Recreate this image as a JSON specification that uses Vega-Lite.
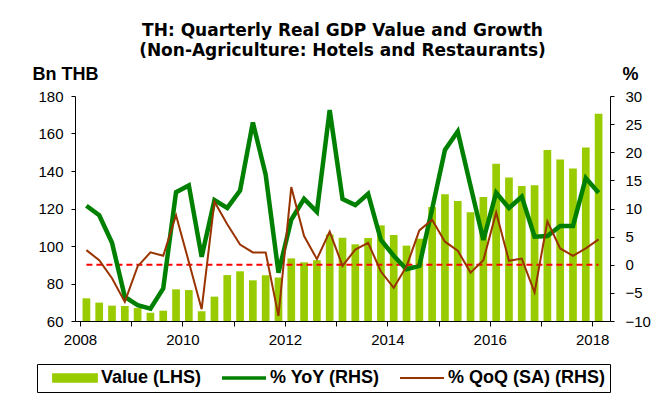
{
  "$schema": "https://vega.github.io/schema/vega-lite/v6.json",
  "width": 535,
  "height": 225,
  "autosize": {"type": "none"},
  "padding": {"left": 75, "top": 96, "right": 59, "bottom": 81},
  "background": "white",
  "title": {
    "text": ["TH: Quarterly Real GDP Value and Growth", "(Non-Agriculture: Hotels and Restaurants)"],
    "font": "DejaVu Sans",
    "fontSize": 17,
    "fontWeight": "bold",
    "color": "#000",
    "anchor": "middle",
    "frame": "group",
    "lineHeight": 20,
    "offset": 5
  },
  "config": {
    "view": {"stroke": null},
    "axis": {
      "labelFont": "Liberation Sans",
      "labelFontSize": 15,
      "labelColor": "#000",
      "domainColor": "#000",
      "tickColor": "#000",
      "domainWidth": 1,
      "tickWidth": 1,
      "grid": false,
      "titleFont": "Liberation Sans",
      "titleFontSize": 18,
      "titleFontWeight": "bold",
      "titleColor": "#000"
    }
  },
  "data": {
    "values": [
      {"t": 2008.125, "value": 72.1, "yoy": 10.5, "qoq": 2.6},
      {"t": 2008.375, "value": 69.8, "yoy": 8.8, "qoq": 0.8},
      {"t": 2008.625, "value": 68.2, "yoy": 3.9, "qoq": -2.4},
      {"t": 2008.875, "value": 68.0, "yoy": -5.7, "qoq": -6.6},
      {"t": 2009.125, "value": 66.9, "yoy": -7.2, "qoq": -0.3},
      {"t": 2009.375, "value": 64.4, "yoy": -7.8, "qoq": 2.2},
      {"t": 2009.625, "value": 65.5, "yoy": -4.2, "qoq": 1.6},
      {"t": 2009.875, "value": 76.9, "yoy": 12.9, "qoq": 8.8},
      {"t": 2010.125, "value": 76.5, "yoy": 14.1, "qoq": 0.5},
      {"t": 2010.375, "value": 65.2, "yoy": 1.4, "qoq": -7.9},
      {"t": 2010.625, "value": 73.0, "yoy": 11.5, "qoq": 11.2},
      {"t": 2010.875, "value": 84.5, "yoy": 10.1, "qoq": 7.2},
      {"t": 2011.125, "value": 86.5, "yoy": 13.2, "qoq": 3.6},
      {"t": 2011.375, "value": 81.7, "yoy": 25.3, "qoq": 2.2},
      {"t": 2011.625, "value": 84.4, "yoy": 16.0, "qoq": 2.2},
      {"t": 2011.875, "value": 83.2, "yoy": -1.4, "qoq": -9.1},
      {"t": 2012.125, "value": 93.4, "yoy": 8.0, "qoq": 13.8},
      {"t": 2012.375, "value": 91.3, "yoy": 11.7, "qoq": 5.1},
      {"t": 2012.625, "value": 92.4, "yoy": 9.4, "qoq": 1.0},
      {"t": 2012.875, "value": 106.2, "yoy": 27.5, "qoq": 5.9},
      {"t": 2013.125, "value": 104.4, "yoy": 11.7, "qoq": -0.2},
      {"t": 2013.375, "value": 100.9, "yoy": 10.6, "qoq": 2.7},
      {"t": 2013.625, "value": 104.3, "yoy": 12.6, "qoq": 3.9},
      {"t": 2013.875, "value": 111.0, "yoy": 4.4, "qoq": -1.2},
      {"t": 2014.125, "value": 105.9, "yoy": 1.6, "qoq": -4.1},
      {"t": 2014.375, "value": 100.2, "yoy": -0.8, "qoq": -0.3},
      {"t": 2014.625, "value": 103.9, "yoy": -0.2, "qoq": 6.1},
      {"t": 2014.875, "value": 120.8, "yoy": 9.9, "qoq": 8.0},
      {"t": 2015.125, "value": 127.6, "yoy": 20.4, "qoq": 4.1},
      {"t": 2015.375, "value": 124.0, "yoy": 23.7, "qoq": 2.5},
      {"t": 2015.625, "value": 118.0, "yoy": 14.0, "qoq": -1.4},
      {"t": 2015.875, "value": 126.1, "yoy": 4.4, "qoq": 0.8},
      {"t": 2016.125, "value": 143.9, "yoy": 12.8, "qoq": 9.3},
      {"t": 2016.375, "value": 136.6, "yoy": 10.1, "qoq": 0.7},
      {"t": 2016.625, "value": 132.0, "yoy": 12.1, "qoq": 1.1},
      {"t": 2016.875, "value": 132.4, "yoy": 5.0, "qoq": -4.9},
      {"t": 2017.125, "value": 151.2, "yoy": 5.1, "qoq": 7.7},
      {"t": 2017.375, "value": 146.2, "yoy": 6.9, "qoq": 2.9},
      {"t": 2017.625, "value": 141.4, "yoy": 6.9, "qoq": 1.6},
      {"t": 2017.875, "value": 152.6, "yoy": 15.4, "qoq": 2.9},
      {"t": 2018.125, "value": 170.6, "yoy": 12.8, "qoq": 4.5}
    ]
  },
  "layer": [
    {
      "mark": {"type": "bar", "width": 7.7},
      "encoding": {
        "x": {"field": "t", "type": "quantitative", "scale": {"domain": [2008, 2018.25], "nice": false, "zero": false},
              "axis": {"values": [2008, 2009, 2010, 2011, 2012, 2013, 2014, 2015, 2016, 2017, 2018], "format": "d", "labelExpr": "datum.value % 2 === 0 ? datum.label : ''", "title": null, "tickSize": 5, "labelPadding": 6, "labelFlush": false, "labelOverlap": false}},
        "y": {"field": "value", "type": "quantitative", "scale": {"domain": [60, 180], "nice": false, "zero": false},
              "axis": {"orient": "left", "values": [60, 80, 100, 120, 140, 160, 180], "tickSize": 4, "labelPadding": 8, "title": "Bn THB", "titleAngle": 0, "titleAlign": "left", "titleBaseline": "alphabetic", "titleX": -43, "titleY": -17}},
        "y2": {"datum": 60},
        "color": {
          "datum": "Value (LHS)",
          "scale": {"domain": ["Value (LHS)", "% YoY (RHS)", "% QoQ (SA) (RHS)"], "range": ["#99cc00", "#008000", "#993300"]},
          "legend": {
            "orient": "none",
            "legendX": -38,
            "legendY": 268,
            "direction": "horizontal",
            "title": null,
            "padding": 5,
            "strokeColor": "#000",
            "fillColor": "#fff",
            "symbolSize": 484,
            "symbolOffset": 13,
            "labelOffset": 28,
            "columnPadding": 9,
            "labelFont": "Liberation Sans",
            "labelFontSize": 18,
            "labelFontWeight": "bold",
            "labelColor": "#000",
            "labelLimit": 300,
            "symbolType": "M-1,0L3,0",
            "encode": {
              "symbols": {
                "update": {
                  "shape": {"signal": "datum.value === 'Value (LHS)' ? 'M-1,-0.35L3,-0.35L3,0.35L-1,0.35Z' : 'M-1,0L3,0'"},
                  "fill": {"signal": "datum.value === 'Value (LHS)' ? '#99cc00' : 'transparent'"},
                  "stroke": {"signal": "datum.value === 'Value (LHS)' ? 'transparent' : (datum.value === '% YoY (RHS)' ? '#008000' : '#993300')"},
                  "strokeWidth": {"signal": "datum.value === '% YoY (RHS)' ? 3.5 : 1.8"},
                  "opacity": {"value": 1},
                  "fillOpacity": {"value": 1},
                  "strokeOpacity": {"value": 1}
                }
              }
            }
          }
        }
      }
    },
    {
      "layer": [
        {
          "mark": {"type": "line", "color": "#ff0000", "strokeDash": [6, 4], "strokeWidth": 2},
          "encoding": {
            "x": {"field": "t", "type": "quantitative"},
            "y": {"datum": 0, "type": "quantitative", "scale": {"domain": [-10, 30], "nice": false, "zero": false},
                  "axis": {"orient": "right", "values": [-10, -5, 0, 5, 10, 15, 20, 25, 30], "tickSize": 4, "labelPadding": 11, "title": "%", "titleAngle": 0, "titleAlign": "left", "titleBaseline": "alphabetic", "titleX": 12, "titleY": -17}}
          }
        },
        {
          "mark": {"type": "line", "strokeWidth": 4.5},
          "encoding": {
            "x": {"field": "t", "type": "quantitative"},
            "y": {"field": "yoy", "type": "quantitative",
                  "axis": {"orient": "right", "values": [-10, -5, 0, 5, 10, 15, 20, 25, 30], "tickSize": 4, "labelPadding": 11, "title": "%", "titleAngle": 0, "titleAlign": "left", "titleBaseline": "alphabetic", "titleX": 12, "titleY": -17}},
            "color": {"datum": "% YoY (RHS)"}
          }
        },
        {
          "mark": {"type": "line", "strokeWidth": 2},
          "encoding": {
            "x": {"field": "t", "type": "quantitative"},
            "y": {"field": "qoq", "type": "quantitative",
                  "axis": {"orient": "right", "values": [-10, -5, 0, 5, 10, 15, 20, 25, 30], "tickSize": 4, "labelPadding": 11, "title": "%", "titleAngle": 0, "titleAlign": "left", "titleBaseline": "alphabetic", "titleX": 12, "titleY": -17}},
            "color": {"datum": "% QoQ (SA) (RHS)"}
          }
        }
      ]
    }
  ],
  "resolve": {"scale": {"y": "independent"}}
}
